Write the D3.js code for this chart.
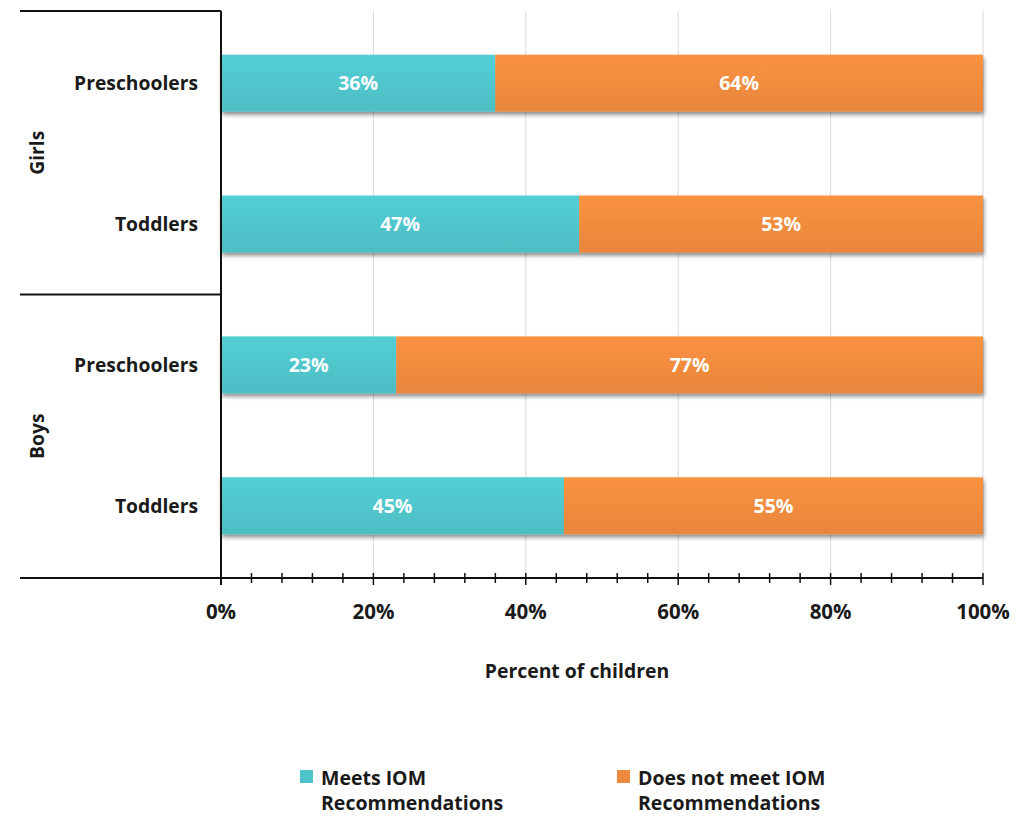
<!DOCTYPE html>
<html><head><meta charset="utf-8">
<script src="https://cdn.jsdelivr.net/npm/d3@7"></script>
<style>body{margin:0;background:#fff}svg{display:block}text{font-family:"Open Sans",Lato,sans-serif;font-weight:700}</style>
</head><body><svg id="c" width="1028" height="816"></svg>
<script>
const groups = ["Girls","Boys"];
const rows = [
  {group:"Girls", age:"Preschoolers"},
  {group:"Girls", age:"Toddlers"},
  {group:"Boys", age:"Preschoolers"},
  {group:"Boys", age:"Toddlers"}
];
const meets = [36, 47, 23, 45];
const notMeets = [64, 53, 77, 55];
const seriesNames = ["Meets IOM Recommendations","Does not meet IOM Recommendations"];
const xTicks = [0,20,40,60,80,100];
const colors = ["#4fc3ca","#ee8a3e"];

const svg = d3.select("#c");
const L = 221, R = 983, T = 11, B = 578;
const x = d3.scaleLinear().domain([0,100]).range([L,R]);
const keys = rows.map((r,i)=>r.group+"|"+r.age+"|"+i);
const y = d3.scaleBand().domain(keys).range([T,B]).paddingInner(0.595).paddingOuter(0.31);

const defs = svg.append("defs");
const f = defs.append("filter").attr("id","sh").attr("x","-5%").attr("y","-20%").attr("width","110%").attr("height","150%");
f.append("feDropShadow").attr("dx",1).attr("dy",3).attr("stdDeviation",2).attr("flood-color","#000").attr("flood-opacity",0.45);
colors.forEach((c,i)=>{
  const g = defs.append("linearGradient").attr("id","g"+i).attr("x1",0).attr("x2",0).attr("y1",0).attr("y2",1);
  g.append("stop").attr("offset","0%").attr("stop-color",d3.color(c).brighter(0.15));
  g.append("stop").attr("offset","100%").attr("stop-color",d3.color(c).darker(0.08));
});

// gridlines
svg.append("g").selectAll("line").data(xTicks.slice(1)).join("line")
  .attr("x1",d=>x(d)).attr("x2",d=>x(d)).attr("y1",T).attr("y2",B)
  .attr("stroke","#d9d9d9").attr("stroke-width",1);

// bars
const stackData = rows.map((r,i)=>({key:keys[i], vals:[meets[i], notMeets[i]]}));
const bg = svg.append("g");
stackData.forEach(d=>{
  let acc = 0;
  const g = bg.append("g").attr("filter","url(#sh)");
  d.vals.forEach((v,j)=>{
    g.append("rect").attr("x",x(acc)).attr("width",x(acc+v)-x(acc))
      .attr("y",y(d.key)).attr("height",y.bandwidth()).attr("fill","url(#g"+j+")");
    acc += v;
  });
});
stackData.forEach(d=>{
  let acc = 0;
  d.vals.forEach((v,j)=>{
    svg.append("text").attr("x",(x(acc)+x(acc+v))/2).attr("y",y(d.key)+y.bandwidth()/2)
      .attr("dy","0.36em").attr("text-anchor","middle").attr("fill","#fff").attr("font-size",19.5)
      .text(v+"%");
    acc += v;
  });
});

// axes lines
const ax = svg.append("g").attr("stroke","#111").attr("stroke-width",2);
ax.append("line").attr("x1",L).attr("x2",L).attr("y1",T).attr("y2",B+7);
ax.append("line").attr("x1",20).attr("x2",R).attr("y1",B).attr("y2",B);
ax.append("line").attr("x1",20).attr("x2",L).attr("y1",T).attr("y2",T);
const sepY = (y(keys[1])+y.bandwidth()+y(keys[2]))/2;
ax.append("line").attr("x1",20).attr("x2",L).attr("y1",sepY).attr("y2",sepY);

// ticks
const minor = d3.range(0,101,4);
svg.append("g").selectAll("line").data(minor).join("line")
  .attr("x1",d=>x(d)).attr("x2",d=>x(d))
  .attr("y1",d=>B-5).attr("y2",d=>d%20===0?B+7:B+5)
  .attr("stroke","#111").attr("stroke-width",1.5);

svg.append("g").selectAll("text").data(xTicks).join("text")
  .attr("x",d=>x(d)).attr("y",619).attr("text-anchor","middle").attr("font-size",20.5).attr("fill","#1a1a1a")
  .text(d=>d+"%");

// y labels
rows.forEach((r,i)=>{
  svg.append("text").attr("x",198).attr("y",y(keys[i])+y.bandwidth()/2).attr("dy","0.36em")
    .attr("text-anchor","end").attr("font-size",19.3).attr("fill","#1a1a1a").text(r.age);
});
groups.forEach(g=>{
  const cy = g==="Girls" ? (T+sepY)/2 : (sepY+B)/2;
  svg.append("text").attr("transform",`translate(37,${cy}) rotate(-90)`).attr("dy","0.36em")
    .attr("text-anchor","middle").attr("font-size",19.3).attr("fill","#1a1a1a").text(g);
});

svg.append("text").attr("x",577).attr("y",678).attr("text-anchor","middle").attr("font-size",19.4).attr("fill","#1a1a1a").text("Percent of children");

// legend
const legX = [300, 617];
const legLines = [["Meets IOM","Recommendations"],["Does not meet IOM","Recommendations"]];
seriesNames.forEach((s,i)=>{
  svg.append("rect").attr("x",legX[i]).attr("y",770).attr("width",13).attr("height",13).attr("fill",colors[i]);
  legLines[i].forEach((t,k)=>{
    svg.append("text").attr("x",legX[i]+21).attr("y",785+k*25).attr("font-size",19.5).attr("fill","#1a1a1a").text(t);
  });
});
</script></body></html>
